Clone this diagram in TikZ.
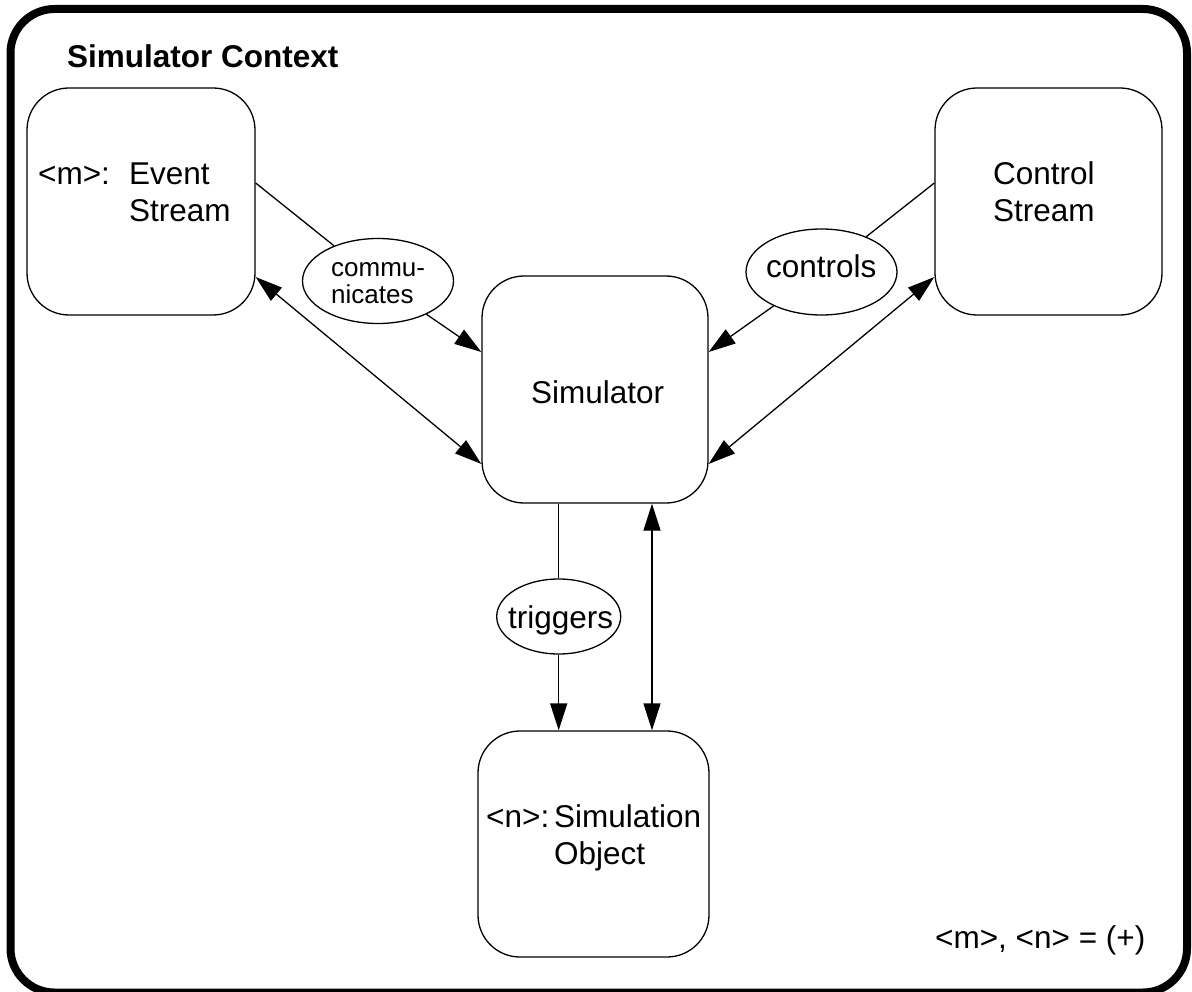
\documentclass[tikz,border=0pt]{standalone}
\usepackage{fontspec}
\setmainfont{Liberation Sans}
\usetikzlibrary{arrows.meta,shapes.geometric}
\begin{document}
\begin{tikzpicture}[x=1pt,y=-1pt,
  box/.style={draw,line width=1.3pt,rounded corners=42pt,inner sep=0pt,
              minimum width=228pt,minimum height=227pt},
  oval/.style={draw,ellipse,line width=1.3pt,inner sep=0pt},
  txt/.style={font=\fontsize{31.5}{37}\selectfont,inner sep=0pt,anchor=base west},
  small/.style={font=\fontsize{26}{26.5}\selectfont,inner sep=0pt,anchor=base west},
  link/.style={line width=1.3pt},
  tip/.style={link,-{Triangle[length=27pt,width=17pt]}},
  both/.style={link,{Triangle[length=27pt,width=17pt]}-{Triangle[length=27pt,width=17pt]}}]
\useasboundingbox (0,0) rectangle (1192,992);

% context frame
\draw[line width=8pt, rounded corners=44pt] (10.5,9) rectangle (1187,992.5);
\node[txt] (title) at (67,68) {\bfseries Simulator Context};

% participants
\node[box] (ev) at (141,201.5) {};
\node[box, minimum width=227pt] (ct) at (1048.5,201.5) {};
\node[box, minimum width=226pt] (sim) at (595,389.5) {};
\node[box, minimum width=231pt, minimum height=226pt] (obj) at (593.5,844) {};

\node[txt] (evtag) at (38,185) {<m>:};
\node[txt] (evname) at (129,185) {\begin{tabular}[t]{@{}l@{}}Event\\Stream\end{tabular}};
\node[txt] (ctname) at (993,185) {\begin{tabular}[t]{@{}l@{}}Control\\Stream\end{tabular}};
\node[txt] (simname) at (531,403) {Simulator};
\node[txt] (objtag) at (486,827) {<n>:};
\node[txt] (objname) at (554,827) {\begin{tabular}[t]{@{}l@{}}Simulation\\Object\end{tabular}};

% relations
\node[oval, minimum width=151pt, minimum height=85pt] (comm) at (378,281) {};
\node[oval, minimum width=151pt, minimum height=86pt] (ctrl) at (821.5,272) {};
\node[oval, minimum width=124pt, minimum height=75pt] (trig) at (558.7,616.5) {};

\node[small] (commtxt) at (331,277) {\begin{tabular}[t]{@{}l@{}}commu-\\nicates\end{tabular}};
\node[txt] (ctrltxt) at (766,278) {controls};
\node[txt] (trigtxt) at (508,628) {triggers};

% multiplicity note
\node[txt] (mult) at (935,948) {<m>, <n> = (+)};

% connectors
\draw[link] ([yshift=18.5pt]ev.east) -- (comm);
\draw[tip] (comm) -- ([yshift=37.5pt]sim.west);
\draw[both] ([yshift=-75.5pt]ev.east) -- ([yshift=-74.5pt]sim.west);
\draw[link] ([yshift=18.5pt]ct.west) -- (ctrl);
\draw[tip] (ctrl) -- ([yshift=37.5pt]sim.east);
\draw[both] ([yshift=-75.5pt]ct.west) -- ([yshift=-74.5pt]sim.east);
\draw[link] (trig.north |- sim.south) -- (trig.north);
\draw[tip] (trig.south) -- (trig.south |- obj.north);
\draw[both] ([xshift=57pt]sim.south) -- ([xshift=57pt]sim.south |- obj.north);
\end{tikzpicture}
\end{document}
